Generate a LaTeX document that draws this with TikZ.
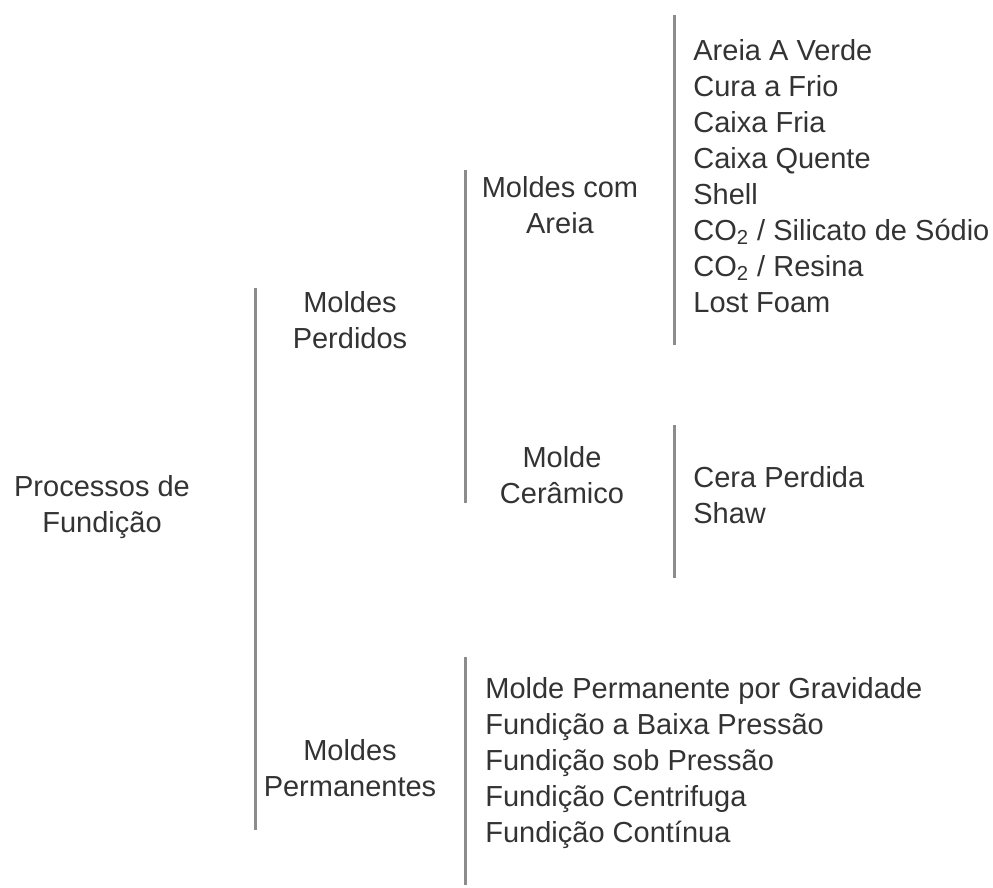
\documentclass[tikz,border=0pt]{standalone}
\usepackage{fontspec}
\setmainfont{Liberation Sans}
\definecolor{txtgray}{HTML}{333333}
\definecolor{linegray}{HTML}{8C8C8C}

\begin{document}
\begin{tikzpicture}[x=0.5pt, y=-0.5pt,
        group/.style = {align=center, inner sep=0pt, text=txtgray, font=\fontsize{14.5}{18}\selectfont},
        items/.style = {align=left, anchor=west, inner sep=0pt, text=txtgray, font=\fontsize{14.5}{18}\selectfont},
        bracket/.style = {draw=linegray, line width=1.5pt} ]
        \useasboundingbox (0, 0) rectangle (993, 888);

        \node at (102, 507) [group] (proc) {Processos de\\Fundição};
        \node at (350, 320) [group] (perd) {Moldes\\Perdidos};
        \node at (350, 768) [group] (perm) {Moldes\\Permanentes};
        \node at (560, 205) [group] (areia) {Moldes com\\Areia};
        \node at (562, 475) [group] (ceram) {Molde\\Cerâmico};

        \node at (693, 176) [items] (areialist) {Areia A Verde\\Cura a Frio\\Caixa Fria\\Caixa Quente\\Shell\\CO\textsubscript{2} / Silicato de Sódio\\CO\textsubscript{2} / Resina\\Lost Foam};
        \node at (693, 495) [items] (ceramlist) {Cera Perdida\\Shaw};
        \node at (485, 763) [items] (permlist) {Molde Permanente por Gravidade\\Fundição a Baixa Pressão\\Fundição sob Pressão\\Fundição Centrifuga\\Fundição Contínua};

        \coordinate (1a) at (255, 288);
        \coordinate (1b) at (255, 830);
        \coordinate (2a) at (465, 170);
        \coordinate (2b) at (465, 503);
        \coordinate (3a) at (674, 15);
        \coordinate (3b) at (674, 345);
        \coordinate (4a) at (674, 425);
        \coordinate (4b) at (674, 578);
        \coordinate (5a) at (465, 657);
        \coordinate (5b) at (465, 885);

        \path[bracket]
        (1a) edge (1b)
        (2a) edge (2b)
        (3a) edge (3b)
        (4a) edge (4b)
        (5a) edge (5b);

    \end{tikzpicture}
\end{document}
